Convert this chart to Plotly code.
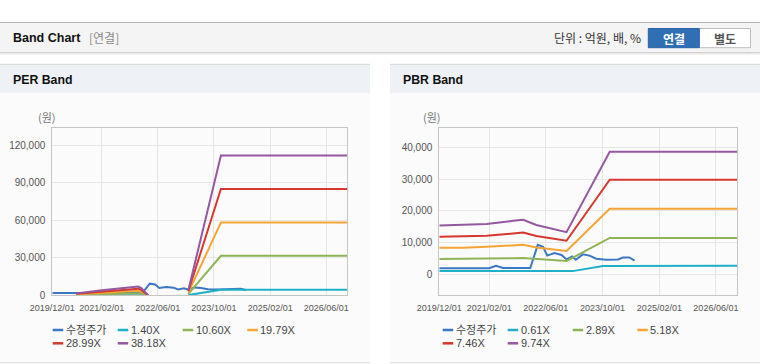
import plotly.graph_objects as go

W, H = 760, 364

# ---------------- data ----------------
x_tick_dates = ["2019-12-01", "2021-02-01", "2022-06-01", "2023-10-01", "2025-02-01", "2026-06-01"]
x_tick_labels = ["2019/12/01", "2021/02/01", "2022/06/01", "2023/10/01", "2025/02/01", "2026/06/01"]

per_y_ticks = [0, 30000, 60000, 90000, 120000]
per_y_labels = ["0", "30,000", "60,000", "90,000", "120,000"]
pbr_y_ticks = [0, 10000, 20000, 30000, 40000]
pbr_y_labels = ["0", "10,000", "20,000", "30,000", "40,000"]

price_dates = ["2019-12-01", "2021-02-01", "2021-04-01", "2021-06-01", "2022-01-20", "2022-03-25",
               "2022-05-10", "2022-06-15", "2022-08-15", "2022-10-15", "2022-11-27", "2023-01-15",
               "2023-02-15", "2023-04-15", "2023-06-12", "2023-08-10", "2023-11-01", "2024-02-12",
               "2024-03-25", "2024-05-20", "2024-07-03"]
price = [1900, 1900, 2700, 2000, 2000, 9300, 8700, 5900, 6700, 6100, 4700, 5600,
         4600, 6300, 5900, 4900, 4600, 4700, 5300, 5300, 4300]

per_dates = ["2020-06-25", "2021-02-01", "2021-12-15", "2022-01-10", "2022-03-10", "2022-08-01",
             "2023-02-22", "2023-12-01", "2026-12-01"]
per_1_40 = [60, 150, 255, 210, 0, None, 150, 4390, 4390]
per_10_60 = [420, 1110, 1930, 1590, 0, None, 1170, 31500, 31500]
per_19_79 = [790, 2080, 3600, 2970, 0, None, 2180, 58100, 58100]
per_28_99 = [1160, 3040, 5280, 4350, 0, None, 3190, 85000, 85000]
per_38_18 = [1530, 4010, 6950, 5730, 0, None, 4200, 111600, 111600]

pbr_dates = ["2019-12-01", "2020-06-25", "2021-01-10", "2021-08-25", "2021-11-20", "2022-03-13",
             "2022-11-27", "2023-12-03", "2026-12-01"]
pbr_2_89 = [4830, 4850, 5000, 5100, 5150, 4900, 4200, 11500, 11500]
pbr_5_18 = [8350, 8400, 8700, 9100, 9300, 8500, 7400, 20700, 20700]
pbr_7_46 = [11900, 11950, 12200, 12900, 13200, 12100, 10600, 29900, 29900]
pbr_9_74 = [15400, 15600, 15900, 16900, 17200, 15600, 13300, 38700, 38700]
pbr_cyan_dates = ["2019-12-01", "2022-03-13", "2023-01-20", "2023-10-05", "2026-12-01"]
pbr_0_61 = [1050, 1100, 1000, 2620, 2720]

per_names = ["수정주가", "1.40X", "10.60X", "19.79X", "28.99X", "38.18X"]
pbr_names = ["수정주가", "0.61X", "2.89X", "5.18X", "7.46X", "9.74X"]
colors = ["#3b77c2", "#1eb0c6", "#8fb457", "#f5a536", "#d5382e", "#9558a0"]

# ---------------- helpers ----------------
def fx(p):
    return p / W

def fy(p):
    return 1 - p / H

FONT = "Liberation Sans, Arial, Noto Sans CJK KR, sans-serif"
KFONT = "Noto Sans CJK KR, Liberation Sans, sans-serif"

fig = go.Figure()

per_series = [(price_dates, price), (per_dates, per_1_40), (per_dates, per_10_60),
              (per_dates, per_19_79), (per_dates, per_28_99), (per_dates, per_38_18)]
pbr_series = [(price_dates, price), (pbr_cyan_dates, pbr_0_61), (pbr_dates, pbr_2_89),
              (pbr_dates, pbr_5_18), (pbr_dates, pbr_7_46), (pbr_dates, pbr_9_74)]

for (xs, ys), name, c in zip(per_series, per_names, colors):
    fig.add_trace(go.Scatter(x=xs, y=ys, name=name, mode="lines", line=dict(color=c, width=2),
                             connectgaps=False, showlegend=False, xaxis="x", yaxis="y"))
for (xs, ys), name, c in zip(pbr_series, pbr_names, colors):
    fig.add_trace(go.Scatter(x=xs, y=ys, name=name, mode="lines", line=dict(color=c, width=2),
                             connectgaps=False, showlegend=False, xaxis="x2", yaxis="y2"))

ydom = [fy(295.3), fy(128.3)]
common_x = dict(type="date", range=["2019-12-01", "2026-12-01"], tickvals=x_tick_dates,
                ticktext=x_tick_labels, showgrid=True, gridcolor="#e6e6e6", gridwidth=1,
                showline=True, linecolor="#c4c4c4", linewidth=1, mirror=True, ticks="",
                ticklabelstandoff=4,
                tickfont=dict(family=FONT, size=9, color="#555"), fixedrange=True, zeroline=False,
                automargin=False)
common_y = dict(showgrid=True, gridcolor="#e6e6e6", gridwidth=1, showline=True, linecolor="#c4c4c4",
                linewidth=1, mirror=True, ticks="", zeroline=False, automargin=False,
                ticklabelstandoff=4,
                tickfont=dict(family=FONT, size=10, color="#555"), fixedrange=True)

fig.update_layout(
    template="none",
    width=W, height=H, margin=dict(l=0, r=0, t=0, b=0, pad=0, autoexpand=False),
    paper_bgcolor="#ffffff", plot_bgcolor="#ffffff", showlegend=False,
    xaxis=dict(common_x, domain=[fx(52.3), fx(347.4)], anchor="y"),
    yaxis=dict(common_y, domain=ydom, range=[0, 133400], tickvals=per_y_ticks,
               ticktext=per_y_labels, anchor="x"),
    xaxis2=dict(common_x, domain=[fx(439.3), fx(737.2)], anchor="y2"),
    yaxis2=dict(common_y, domain=ydom, range=[-6640, 46130], tickvals=pbr_y_ticks,
                ticktext=pbr_y_labels, anchor="x2"),
)

shapes = []
annots = []

def rect(x0, y0, x1, y1, fill, line=None, lw=0):
    shapes.append(dict(type="rect", xref="paper", yref="paper", x0=fx(x0), x1=fx(x1),
                       y0=fy(y1), y1=fy(y0), fillcolor=fill, layer="below",
                       line=dict(color=line or fill, width=lw)))

def hline(x0, x1, y, color, w=1):
    shapes.append(dict(type="line", xref="paper", yref="paper", x0=fx(x0), x1=fx(x1),
                       y0=fy(y), y1=fy(y), line=dict(color=color, width=w), layer="below"))

def text(x, y, s, size=12, color="#222", anchor="left", bold=False, family=KFONT):
    annots.append(dict(xref="paper", yref="paper", x=fx(x), y=fy(y), text=("<b>%s</b>" % s) if bold else s,
                       showarrow=False, xanchor=anchor, yanchor="middle", borderpad=0,
                       font=dict(family=family, size=size, color=color)))

# header bar
rect(0, 22.5, 760, 52.5, "#f4f4f4")
hline(0, 760, 22.5, "#b3b3b3", 1)
hline(0, 760, 52.8, "#c2c2c2", 1)
hline(0, 760, 54, "#e6e6e6", 1.2)
text(12, 38, "Band Chart", size=12.5, color="#111", bold=True, family=FONT)
text(88, 38, "[연결]", size=12, color="#8a8a8a")
text(641.5, 38, "단위 : 억원, 배, %", size=12, color="#333", anchor="right")
# buttons
rect(699.3, 28.5, 750.5, 47.7, "#ffffff", "#bdbdbd", 1)
rect(648.3, 28.5, 699.3, 47.7, "#316fb5", "#2b63a6", 1)
text(673.8, 38.2, "연결", size=12, color="#ffffff", anchor="center", bold=True)
text(725, 38.2, "별도", size=12, color="#555555", anchor="center", bold=True)

# panels
for (x0, x1, title) in [(0, 370, "PER Band"), (390, 760, "PBR Band")]:
    rect(x0, 64.3, x1, 93, "#eef2f7")
    rect(x0, 93, x1, 362.5, "#fbfbfb")
    hline(x0, x1, 64.3, "#d5d5d5", 1)
    hline(x0, x1, 362.8, "#dadada", 1)
    text(x0 + 12, 80, title, size=12.3, color="#111", bold=True, family=FONT)

text(47, 117, "(원)", size=11, color="#777", anchor="center")
text(432, 117, "(원)", size=11, color="#777", anchor="center")

# legends (manual)
def legend(x_start, names):
    cols = [0, 65, 130, 194.6]
    pos = [(x_start + cols[i % 4], 330 if i < 4 else 343.3) for i in range(len(names))]
    for (lx, ly), n, c in zip(pos, names, colors):
        shapes.append(dict(type="line", xref="paper", yref="paper", x0=fx(lx), x1=fx(lx + 10.5),
                           y0=fy(ly), y1=fy(ly), line=dict(color=c, width=2.5)))
        text(lx + 12, ly, n, size=11, color="#444", family=FONT)

legend(52.7, per_names)
legend(442.7, pbr_names)

fig.update_layout(shapes=shapes, annotations=annots)
fig.write_html("out.html", config={"displayModeBar": False},
               post_script="document.body.style.margin='0px';document.body.style.overflow='hidden';")
